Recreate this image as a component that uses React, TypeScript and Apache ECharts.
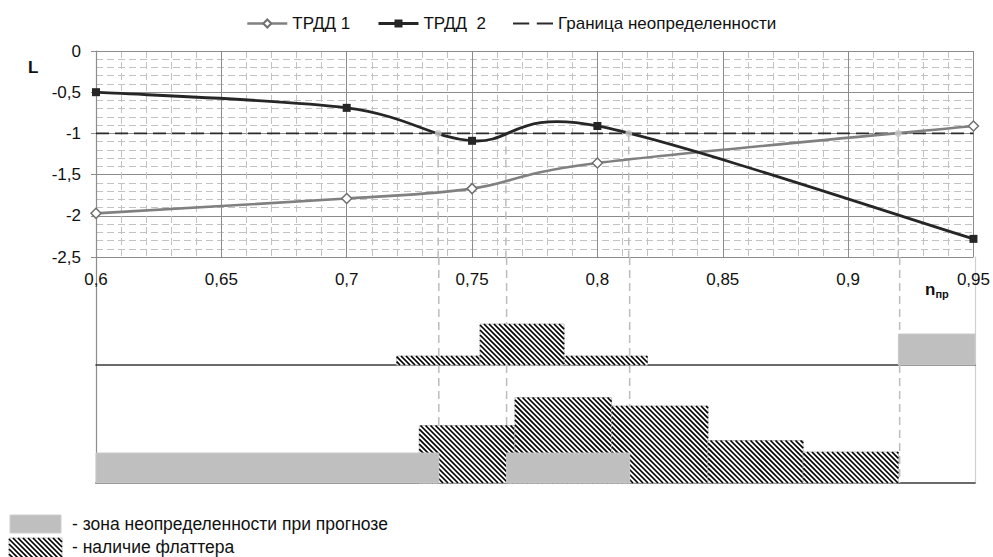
import React, { useEffect, useRef } from "react";
import * as echarts from "echarts";

// ---- data ----
const xPoints = [0.6, 0.7, 0.75, 0.8, 0.95];
const trdd1 = [-1.97, -1.79, -1.67, -1.36, -0.91];
const trdd2 = [-0.5, -0.69, -1.09, -0.91, -2.28];
const boundaryLevel = -1;
const crossingDots = [0.7365, 0.8125, 0.92];
const cutLines = [0.7365, 0.7635, 0.8125, 0.92];
// bottom panels: [xStart, xEnd, level]
const panel1Flutter = [
  [0.7197, 0.8196, 9],
  [0.7529, 0.7864, 41],
];
const panel1Uncertain = [[0.9195, 0.95, 31]];
const panel2Flutter = [
  [0.7287, 0.7668, 57.5],
  [0.7668, 0.8053, 85.5],
  [0.8053, 0.8437, 77],
  [0.8437, 0.8816, 42.5],
  [0.8816, 0.9195, 31],
];
const panel2Uncertain = [
  [0.6, 0.7365, 30],
  [0.7635, 0.8125, 30],
];
const panel1Max = 108;
const panel2Max = 118;

const FONT = "'Liberation Sans', Arial, sans-serif";
const GREY_FILL = "#bfbfbf";
const C1 = "#808080";
const C2 = "#262626";

function hatch(x0: number, y0: number, w: number, h: number, period = 5, lw = 1.7) {
  const x1 = x0 + w;
  const y1 = y0 + h;
  const lines: any[] = [];
  const cMin = x0 - y1;
  const cMax = x1 - y0;
  for (let c = Math.ceil(cMin / period) * period; c <= cMax; c += period) {
    const xa = Math.max(x0, y0 + c);
    const xb = Math.min(x1, y1 + c);
    if (xb - xa > 0.3) {
      lines.push({
        type: "line",
        silent: true,
        shape: { x1: xa, y1: xa - c, x2: xb, y2: xb - c },
        style: { stroke: "#000", lineWidth: lw },
      });
    }
  }
  return lines;
}

function barRender(hatched: boolean) {
  return (params: any, api: any) => {
    const a = api.coord([api.value(0), api.value(2)]);
    const b = api.coord([api.value(1), 0]);
    const x = a[0];
    const y = a[1];
    const w = b[0] - a[0];
    const h = b[1] - a[1];
    if (!hatched) {
      return {
        type: "rect",
        shape: { x, y, width: w, height: h },
        style: { fill: GREY_FILL, stroke: "#c9c9c9", lineWidth: 1 },
      };
    }
    return {
      type: "group",
      children: [
        { type: "rect", shape: { x, y, width: w, height: h }, style: { fill: "#fff", stroke: "#c4c4c4", lineWidth: 1 } },
        ...hatch(x, y, w, h),
      ],
    };
  };
}

function vlineRender(yTop: number, yBottom: number) {
  return (params: any, api: any) => {
    const a = api.coord([api.value(0), yTop]);
    const b = api.coord([api.value(0), yBottom]);
    return {
      type: "line",
      shape: { x1: a[0], y1: a[1], x2: b[0], y2: b[1] },
      style: { stroke: "#bdbdbd", lineWidth: 1.5, lineDash: [8, 5] },
    };
  };
}

// spreadsheet-style smoothed curve (cubic Bezier, control points at (P[i+1]-P[i-1])/6)
function curveRender(ys: number[], color: string, width: number) {
  return (params: any, api: any) => {
    const i = params.dataIndex;
    const n = xPoints.length;
    if (i >= n - 1) return null;
    const p = (k: number) => {
      const kk = Math.max(0, Math.min(n - 1, k));
      return api.coord([xPoints[kk], ys[kk]]);
    };
    const p0 = p(i - 1);
    const p1 = p(i);
    const p2 = p(i + 1);
    const p3 = p(i + 2);
    return {
      type: "bezierCurve",
      shape: {
        x1: p1[0],
        y1: p1[1],
        x2: p2[0],
        y2: p2[1],
        cpx1: p1[0] + (p2[0] - p0[0]) / 6,
        cpy1: p1[1] + (p2[1] - p0[1]) / 6,
        cpx2: p2[0] - (p3[0] - p1[0]) / 6,
        cpy2: p2[1] - (p3[1] - p1[1]) / 6,
      },
      style: { stroke: color, lineWidth: width, fill: "none" },
    };
  };
}

const fmt = (v: number) => String(+Number(v).toFixed(2)).replace(".", ",");

export default function App() {
  const ref = useRef<HTMLDivElement>(null);
  useEffect(() => {
    document.body.style.margin = "0";
    const chart = echarts.init(ref.current!, null, { renderer: "svg" });
    const hiddenX = (gridIndex: number) => ({
      type: "value",
      gridIndex,
      min: 0.6,
      max: 0.95,
      axisLine: { show: true, onZero: false, lineStyle: { color: "#3a3a3a", width: 1.6 } },
      axisTick: { show: false },
      axisLabel: { show: false },
      splitLine: { show: false },
    });
    const panelY = (gridIndex: number, max: number, position: string, color: string) => ({
      type: "value",
      gridIndex,
      min: 0,
      max,
      position,
      axisLine: { show: true, lineStyle: { color, width: 1.2 } },
      axisTick: { show: false },
      axisLabel: { show: false },
      splitLine: { show: false },
    });
    const option: any = {
      animation: false,
      backgroundColor: "#fff",
      legend: {
        left: 241,
        top: 10,
        itemWidth: 40,
        itemHeight: 10,
        itemGap: 27,
        data: [
          { name: "ТРДД 1", lineStyle: { width: 2.6, color: C1 } },
          { name: "ТРДД  2", lineStyle: { width: 2.8, color: C2 } },
          { name: "Граница неопределенности", icon: "path://M0,0H15V2H0Z M22,0H37V2H22Z", itemStyle: { color: "#2b2b2b" } },
        ],
        textStyle: { fontFamily: FONT, fontSize: 17, color: "#111" },
      },
      grid: [
        { left: 96, right: 18, top: 51, height: 206 },
        { left: 96, right: 18, top: 257, height: 108 },
        { left: 96, right: 18, top: 365, height: 118 },
      ],
      xAxis: [
        {
          type: "value",
          gridIndex: 0,
          min: 0.6,
          max: 0.95,
          interval: 0.05,
          axisLine: { show: true, lineStyle: { color: "#8c8c8c", width: 1.2 } },
          axisTick: { show: false },
          axisLabel: { fontFamily: FONT, fontSize: 17, color: "#111", margin: 14, formatter: fmt, showMaxLabel: true, showMinLabel: true },
          splitLine: { show: true, lineStyle: { color: "#8c8c8c", width: 1 } },
          minorTick: { show: false, splitNumber: 5 },
          minorSplitLine: { show: true, lineStyle: { color: "#c2c2c2", width: 1, type: [7, 4] } },
        },
        hiddenX(1),
        hiddenX(2),
      ],
      yAxis: [
        {
          type: "value",
          gridIndex: 0,
          min: -2.5,
          max: 0,
          interval: 0.5,
          axisLine: { show: true, lineStyle: { color: "#8c8c8c", width: 1.2 } },
          axisTick: { show: true, length: 5, lineStyle: { color: "#8c8c8c" } },
          axisLabel: { fontFamily: FONT, fontSize: 17, color: "#111", margin: 15, formatter: fmt },
          splitLine: { show: true, lineStyle: { color: "#8c8c8c", width: 1 } },
          minorTick: { show: false, splitNumber: 5 },
          minorSplitLine: { show: true, lineStyle: { color: "#c2c2c2", width: 1, type: [7, 4] } },
        },
        panelY(1, panel1Max, "left", "#8c8c8c"),
        panelY(1, panel1Max, "right", "#d0d0d0"),
        panelY(2, panel2Max, "left", "#8c8c8c"),
        panelY(2, panel2Max, "right", "#d0d0d0"),
      ],
      series: [
        {
          type: "custom",
          xAxisIndex: 0,
          yAxisIndex: 0,
          silent: true,
          z: 1,
          data: cutLines.map((x) => [x, boundaryLevel]),
          encode: { x: 0, y: 1 },
          renderItem: vlineRender(boundaryLevel, -2.5),
        },
        {
          name: "Граница неопределенности",
          type: "line",
          xAxisIndex: 0,
          yAxisIndex: 0,
          data: [[0.6, boundaryLevel], [0.95, boundaryLevel]],
          symbol: "none",
          lineStyle: { color: "#2b2b2b", width: 1.8, type: [13, 6] },
          itemStyle: { color: "#2b2b2b" },
          z: 2,
        },
        {
          type: "custom",
          xAxisIndex: 0,
          yAxisIndex: 0,
          silent: true,
          z: 3,
          data: xPoints.map((x, i) => [x, trdd1[i]]),
          encode: { x: 0, y: 1 },
          renderItem: curveRender(trdd1, C1, 2.6),
        },
        {
          type: "custom",
          xAxisIndex: 0,
          yAxisIndex: 0,
          silent: true,
          z: 4,
          data: xPoints.map((x, i) => [x, trdd2[i]]),
          encode: { x: 0, y: 1 },
          renderItem: curveRender(trdd2, C2, 2.8),
        },
        {
          name: "ТРДД 1",
          type: "line",
          xAxisIndex: 0,
          yAxisIndex: 0,
          data: xPoints.map((x, i) => [x, trdd1[i]]),
          symbol: "diamond",
          symbolSize: 10,
          lineStyle: { color: C1, width: 0 },
          itemStyle: { color: "#ffffff", borderColor: "#707070", borderWidth: 1.5 },
          z: 5,
        },
        {
          name: "ТРДД  2",
          type: "line",
          xAxisIndex: 0,
          yAxisIndex: 0,
          data: xPoints.map((x, i) => [x, trdd2[i]]),
          symbol: "rect",
          symbolSize: 8,
          lineStyle: { color: C2, width: 0 },
          itemStyle: { color: C2 },
          z: 6,
        },
        {
          type: "scatter",
          xAxisIndex: 0,
          yAxisIndex: 0,
          data: crossingDots.map((x) => [x, boundaryLevel]),
          symbol: "circle",
          symbolSize: 7,
          itemStyle: { color: "#c8c8c8" },
          z: 7,
        },
        // panel 1
        {
          type: "custom",
          xAxisIndex: 1,
          yAxisIndex: 1,
          silent: true,
          z: 1,
          data: cutLines.map((x) => [x, panel1Max]),
          encode: { x: 0, y: 1 },
          renderItem: vlineRender(panel1Max, 0),
        },
        {
          type: "custom",
          xAxisIndex: 1,
          yAxisIndex: 1,
          silent: true,
          z: 2,
          data: panel1Flutter,
          encode: { x: [0, 1], y: 2 },
          renderItem: barRender(true),
        },
        {
          type: "custom",
          xAxisIndex: 1,
          yAxisIndex: 1,
          silent: true,
          z: 3,
          data: panel1Uncertain,
          encode: { x: [0, 1], y: 2 },
          renderItem: barRender(false),
        },
        // panel 2
        {
          type: "custom",
          xAxisIndex: 2,
          yAxisIndex: 3,
          silent: true,
          z: 1,
          data: cutLines.map((x) => [x, panel2Max]),
          encode: { x: 0, y: 1 },
          renderItem: vlineRender(panel2Max, 0),
        },
        {
          type: "custom",
          xAxisIndex: 2,
          yAxisIndex: 3,
          silent: true,
          z: 2,
          data: panel2Flutter,
          encode: { x: [0, 1], y: 2 },
          renderItem: barRender(true),
        },
        {
          type: "custom",
          xAxisIndex: 2,
          yAxisIndex: 3,
          silent: true,
          z: 3,
          data: panel2Uncertain,
          encode: { x: [0, 1], y: 2 },
          renderItem: barRender(false),
        },
      ],
      graphic: [
        {
          type: "text",
          left: 28,
          top: 59,
          style: { text: "L", font: `bold 17px ${FONT}`, fill: "#111" },
        },
        {
          type: "text",
          left: 925,
          top: 281,
          style: {
            text: "{n|n}{s|пр}",
            rich: {
              n: { fontFamily: FONT, fontWeight: "bold", fontSize: 17, fill: "#111" },
              s: { fontFamily: FONT, fontWeight: "bold", fontSize: 11, fill: "#111", padding: [8, 0, 0, 0] },
            },
          },
        },
        {
          type: "rect",
          shape: { x: 10, y: 515, width: 51, height: 18 },
          style: { fill: GREY_FILL, stroke: "#cfcfcf", lineWidth: 1 },
        },
        {
          type: "group",
          children: [
            { type: "rect", shape: { x: 9, y: 538, width: 53, height: 20 }, style: { fill: "#fff", stroke: "#c4c4c4", lineWidth: 1 } },
            ...hatch(9, 538, 53, 20),
          ],
        },
        {
          type: "text",
          left: 72,
          top: 515,
          style: { text: "- зона неопределенности при прогнозе", font: `17.5px ${FONT}`, fill: "#111" },
        },
        {
          type: "text",
          left: 72,
          top: 538,
          style: { text: "- наличие флаттера", font: `17.5px ${FONT}`, fill: "#111" },
        },
      ],
    };
    chart.setOption(option);
    return () => chart.dispose();
  }, []);
  return <div ref={ref} style={{ width: 993, height: 557 }} />;
}
